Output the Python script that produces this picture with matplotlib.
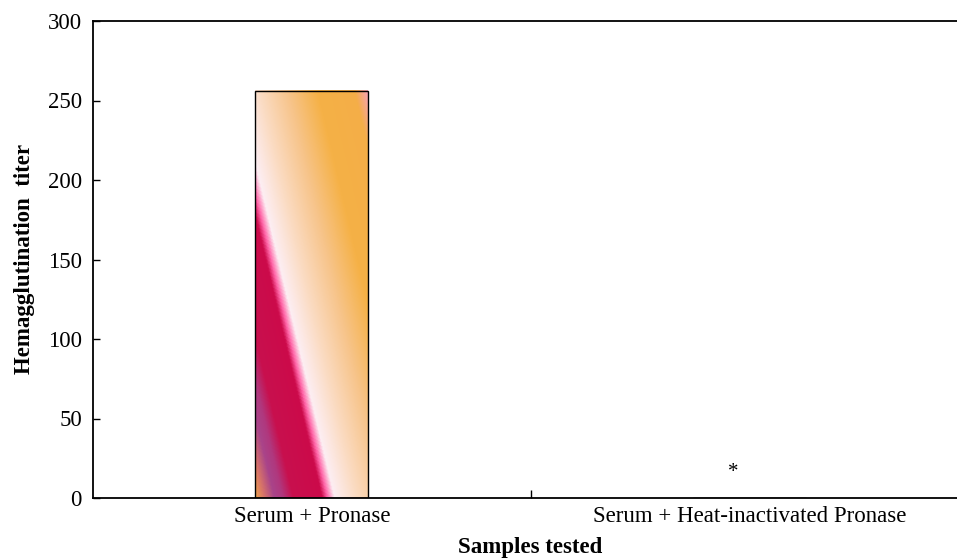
import matplotlib.pyplot as plt
import numpy as np
from matplotlib.colors import LinearSegmentedColormap, to_rgb

categories = ['Serum + Pronase', 'Serum + Heat-inactivated Pronase']
titers = [256, 0]
marks = ['', '*']

plt.rcParams['font.family'] = ['Liberation Serif', 'DejaVu Serif']

fig = plt.figure(figsize=(9.57, 5.59), dpi=100)
ax = fig.add_axes([93 / 957, 61 / 559, 875 / 957, 477 / 559])

x = np.arange(len(categories))
bw = 0.258
bars = ax.bar(x, titers, width=bw, color='none', edgecolor='black', linewidth=1.0, zorder=3)

# diagonal gradient fill for the bars
stops = [(0.0, '#eca04c'), (0.04, '#d87468'), (0.09, '#a9448a'), (0.13, '#b0387e'),
         (0.18, '#c8104e'), (0.32, '#cc0a4a'), (0.345, '#ff66a8'), (0.38, '#fdeef3'),
         (0.48, '#fbdcc4'), (0.62, '#f7c48a'), (0.76, '#f5b146'), (0.94, '#f4ae48'),
         (1.0, '#f8a2b2')]
cmap = LinearSegmentedColormap.from_list('grad', [(p, to_rgb(c)) for p, c in stops])
for b in bars:
    h = b.get_height()
    if h <= 0:
        continue
    px = np.linspace(0, 113, 120)
    py = np.linspace(0, 406, 400)
    PX, PY = np.meshgrid(px, py)
    u = (280 * PX + 67 * PY) / 288.0
    u = u / u.max()
    x0 = b.get_x()
    ax.imshow(u, cmap=cmap, origin='lower', aspect='auto', interpolation='bilinear',
              extent=(x0, x0 + b.get_width(), 0, h), zorder=2, clip_path=b, clip_on=True)

for xi, m, v in zip(x, marks, titers):
    if m:
        ax.text(xi - 0.037, v + 16, m, ha='center', va='center', fontsize=15)

ax.set_xlim(-0.5, 1.5)
ax.set_ylim(0, 300)
ax.set_xticks(x)
ax.set_xticklabels(categories, fontsize=16.5)
ax.set_xticks([0.5], minor=True)
ax.tick_params(axis='x', which='major', length=0, pad=6)
ax.tick_params(axis='x', which='minor', direction='in', length=6, width=1)
ax.set_yticks(np.arange(0, 301, 50))
ax.tick_params(axis='y', direction='in', length=5, width=1, labelsize=16.5, pad=8)

for s in ['left', 'bottom', 'top']:
    ax.spines[s].set_linewidth(1.3)
ax.spines['right'].set_visible(False)

ax.set_xlabel('Samples tested', fontsize=16.5, fontweight='bold', labelpad=7)
ax.set_ylabel('Hemagglutination  titer', fontsize=16.5, fontweight='bold', labelpad=9)

fig.savefig('out.png', dpi=100)
